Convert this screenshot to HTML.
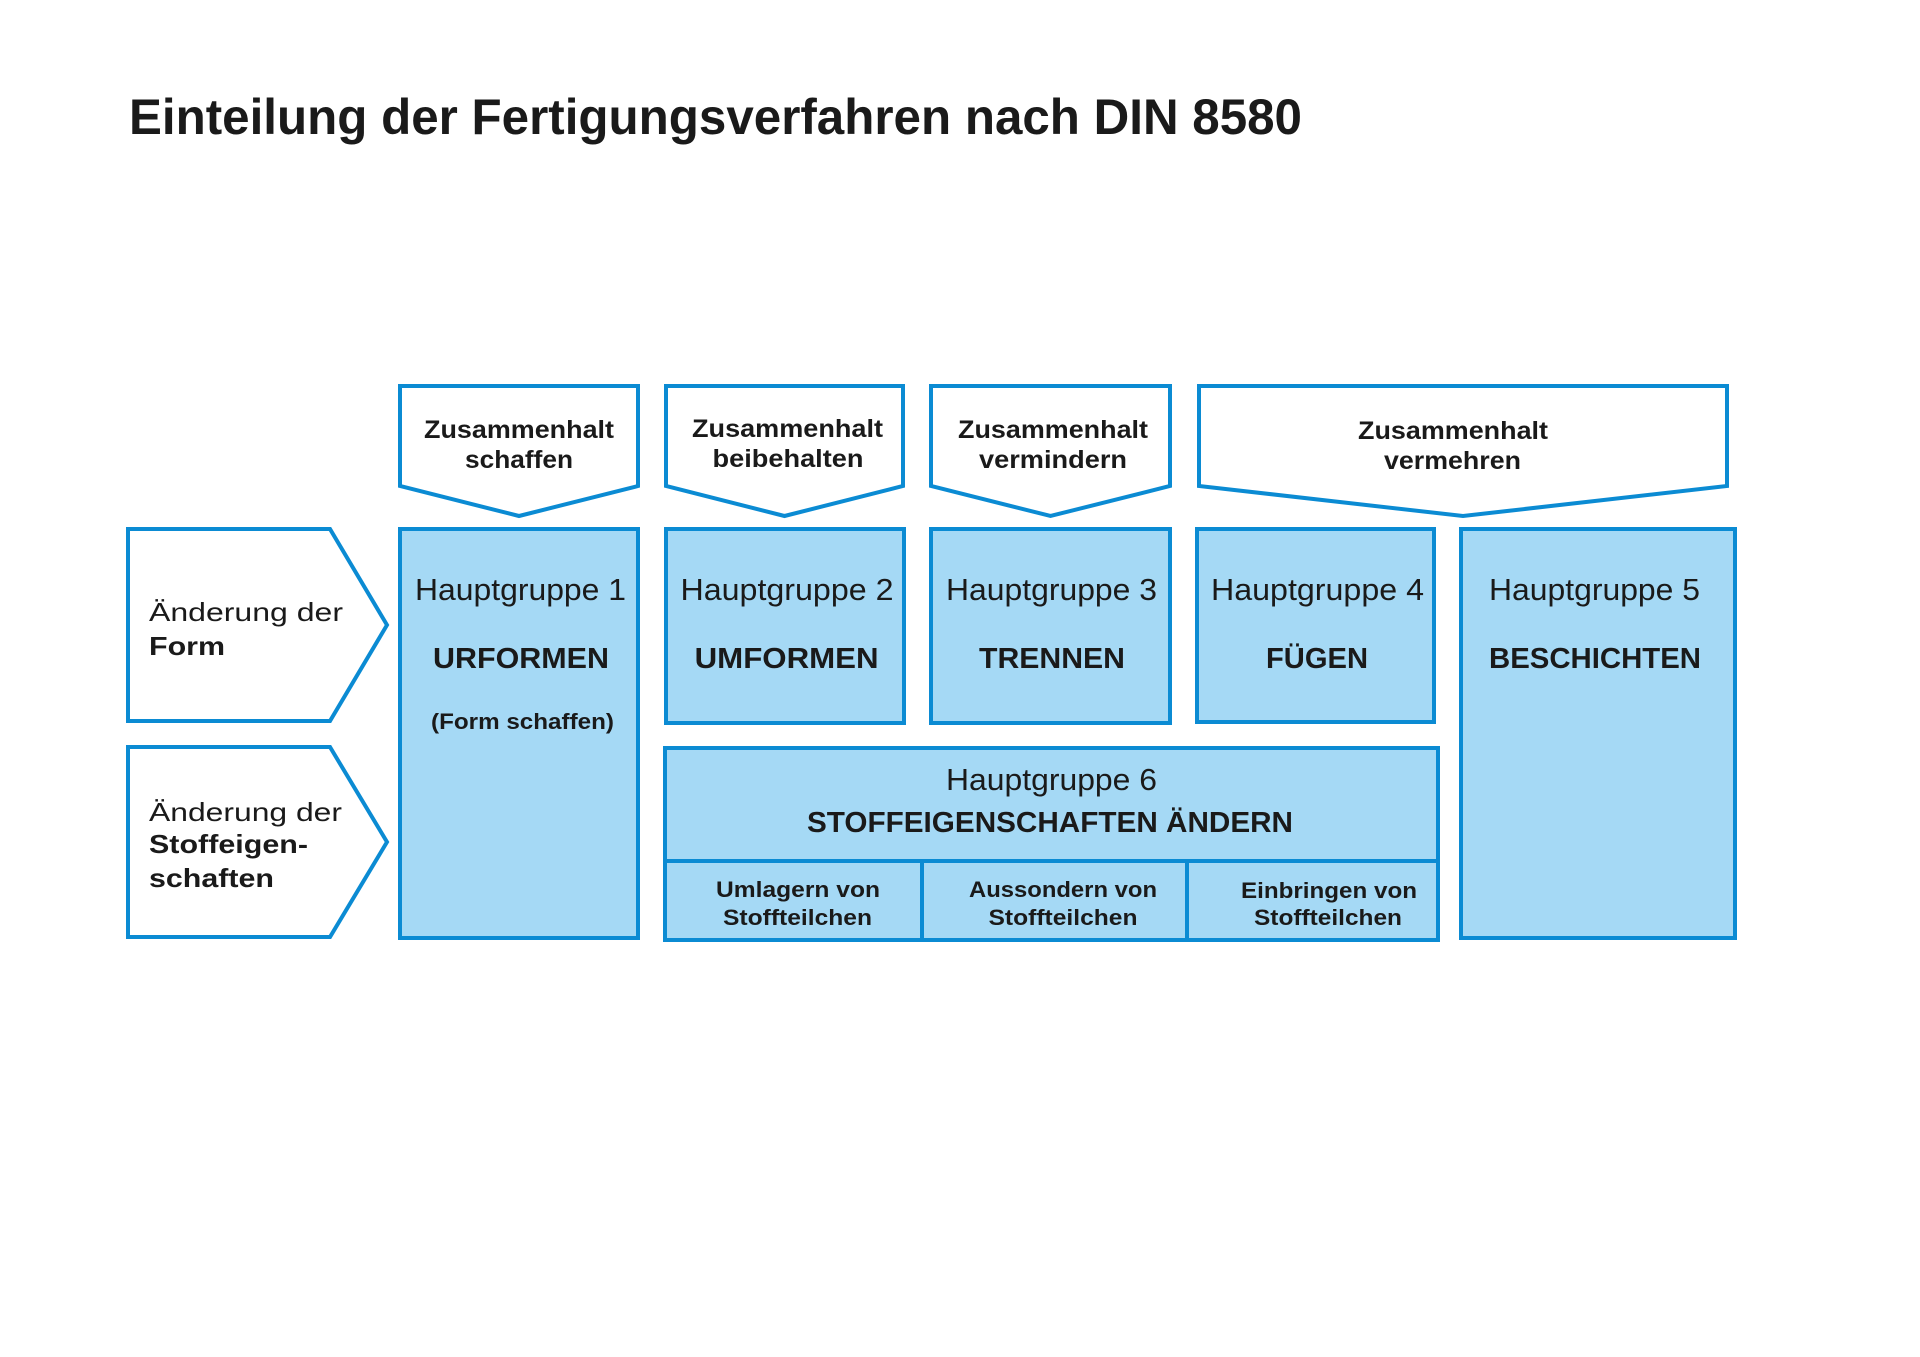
<!DOCTYPE html>
<html>
<head>
<meta charset="utf-8">
<style>
  html, body { margin:0; padding:0; background:#ffffff; }
  body { width:1920px; height:1357px; overflow:hidden; }
  svg { display:block; }
  text { font-family: "Liberation Sans", "DejaVu Sans", sans-serif; fill:#1a1a1a; }
  .b { font-weight:bold; }
</style>
</head>
<body>
<svg width="1920" height="1357" viewBox="0 0 1920 1357" xmlns="http://www.w3.org/2000/svg">
  <rect x="0" y="0" width="1920" height="1357" fill="#ffffff"/>

  <!-- Title -->
  <text class="b" x="129" y="134" font-size="50" textLength="1173" lengthAdjust="spacingAndGlyphs">Einteilung der Fertigungsverfahren nach DIN 8580</text>

  <g stroke="#0b8bd3" stroke-width="4" stroke-linejoin="miter">
    <!-- Top arrows -->
    <polygon points="400,386 638,386 638,486 519,516 400,486" fill="#ffffff"/>
    <polygon points="666,386 903,386 903,486 784.5,516 666,486" fill="#ffffff"/>
    <polygon points="931,386 1170,386 1170,486 1050.5,516 931,486" fill="#ffffff"/>
    <polygon points="1199,386 1727,386 1727,486 1463,516 1199,486" fill="#ffffff"/>

    <!-- Left arrows -->
    <polygon points="128,529 330,529 387,625 330,721 128,721" fill="#ffffff"/>
    <polygon points="128,747 330,747 387,842 330,937 128,937" fill="#ffffff"/>

    <!-- Main group boxes -->
    <rect x="400" y="529" width="238" height="409" fill="#a5d9f5"/>
    <rect x="666" y="529" width="238" height="194" fill="#a5d9f5"/>
    <rect x="931" y="529" width="239" height="194" fill="#a5d9f5"/>
    <rect x="1197" y="529" width="237" height="193" fill="#a5d9f5"/>
    <rect x="1461" y="529" width="274" height="409" fill="#a5d9f5"/>

    <!-- Hauptgruppe 6 -->
    <rect x="665" y="748" width="773" height="192" fill="#a5d9f5"/>
    <line x1="665" y1="861" x2="1438" y2="861"/>
    <line x1="922" y1="861" x2="922" y2="940"/>
    <line x1="1187" y1="861" x2="1187" y2="940"/>
  </g>

  <!-- Top arrow labels -->
  <g class="b" font-size="25" text-anchor="middle">
    <text class="b" x="519" y="438" textLength="190" lengthAdjust="spacingAndGlyphs">Zusammenhalt</text>
    <text class="b" x="519" y="468" textLength="108" lengthAdjust="spacingAndGlyphs">schaffen</text>

    <text class="b" x="787.5" y="437" textLength="191" lengthAdjust="spacingAndGlyphs">Zusammenhalt</text>
    <text class="b" x="788" y="467" textLength="151" lengthAdjust="spacingAndGlyphs">beibehalten</text>

    <text class="b" x="1053" y="438" textLength="190" lengthAdjust="spacingAndGlyphs">Zusammenhalt</text>
    <text class="b" x="1053" y="468" textLength="148" lengthAdjust="spacingAndGlyphs">vermindern</text>

    <text class="b" x="1453" y="439" textLength="190" lengthAdjust="spacingAndGlyphs">Zusammenhalt</text>
    <text class="b" x="1452.5" y="469" textLength="137" lengthAdjust="spacingAndGlyphs">vermehren</text>
  </g>

  <!-- Left arrow labels -->
  <text x="149" y="621" font-size="26" textLength="194" lengthAdjust="spacingAndGlyphs">Änderung der</text>
  <text class="b" x="149" y="655" font-size="26" textLength="76" lengthAdjust="spacingAndGlyphs">Form</text>

  <text x="149" y="821" font-size="26" textLength="193" lengthAdjust="spacingAndGlyphs">Änderung der</text>
  <text class="b" x="149" y="853" font-size="26" textLength="159" lengthAdjust="spacingAndGlyphs">Stoffeigen-</text>
  <text class="b" x="149" y="887" font-size="26" textLength="125" lengthAdjust="spacingAndGlyphs">schaften</text>

  <!-- Hauptgruppe labels -->
  <g font-size="31" text-anchor="middle">
    <text x="520.5" y="600" textLength="211" lengthAdjust="spacingAndGlyphs">Hauptgruppe 1</text>
    <text x="787" y="600" textLength="213" lengthAdjust="spacingAndGlyphs">Hauptgruppe 2</text>
    <text x="1051.5" y="600" textLength="211" lengthAdjust="spacingAndGlyphs">Hauptgruppe 3</text>
    <text x="1317.5" y="600" textLength="213" lengthAdjust="spacingAndGlyphs">Hauptgruppe 4</text>
    <text x="1594.5" y="600" textLength="211" lengthAdjust="spacingAndGlyphs">Hauptgruppe 5</text>
    <text x="1051.5" y="790" textLength="211" lengthAdjust="spacingAndGlyphs">Hauptgruppe 6</text>
  </g>

  <g font-size="29" text-anchor="middle">
    <text class="b" x="521" y="668" textLength="176" lengthAdjust="spacingAndGlyphs">URFORMEN</text>
    <text class="b" x="786.6" y="668" textLength="184" lengthAdjust="spacingAndGlyphs">UMFORMEN</text>
    <text class="b" x="1052" y="668" textLength="146" lengthAdjust="spacingAndGlyphs">TRENNEN</text>
    <text class="b" x="1317" y="668" textLength="102" lengthAdjust="spacingAndGlyphs">FÜGEN</text>
    <text class="b" x="1595" y="668" textLength="212" lengthAdjust="spacingAndGlyphs">BESCHICHTEN</text>
    <text class="b" x="1050" y="832" textLength="486" lengthAdjust="spacingAndGlyphs">STOFFEIGENSCHAFTEN ÄNDERN</text>
  </g>

  <text class="b" x="522.5" y="729" font-size="22" text-anchor="middle" textLength="183" lengthAdjust="spacingAndGlyphs">(Form schaffen)</text>

  <!-- Sub cells -->
  <g font-size="22" text-anchor="middle">
    <text class="b" x="798" y="897" textLength="164" lengthAdjust="spacingAndGlyphs">Umlagern von</text>
    <text class="b" x="797.5" y="925" textLength="149" lengthAdjust="spacingAndGlyphs">Stoffteilchen</text>

    <text class="b" x="1063" y="897" textLength="188" lengthAdjust="spacingAndGlyphs">Aussondern von</text>
    <text class="b" x="1063" y="925" textLength="149" lengthAdjust="spacingAndGlyphs">Stoffteilchen</text>

    <text class="b" x="1329" y="898" textLength="176" lengthAdjust="spacingAndGlyphs">Einbringen von</text>
    <text class="b" x="1328" y="925" textLength="148" lengthAdjust="spacingAndGlyphs">Stoffteilchen</text>
  </g>
</svg>
</body>
</html>
